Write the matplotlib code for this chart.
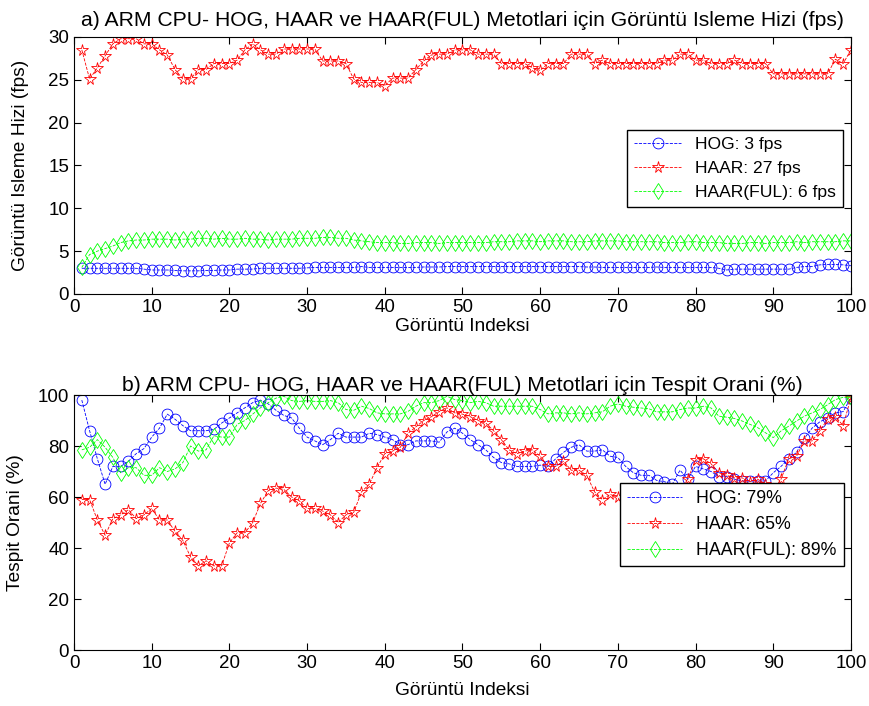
import matplotlib
matplotlib.use('Agg')
import matplotlib.pyplot as plt
import numpy as np

plt.rcParams['font.family'] = ['Liberation Sans', 'DejaVu Sans']

idx = np.arange(1, 101)

# a) processing speed (fps)
hog_fps = [3.0, 3.0, 3.0, 3.0, 3.0, 3.0, 3.0, 3.0, 2.9, 2.8,
           2.8, 2.8, 2.75, 2.7, 2.7, 2.7, 2.75, 2.75, 2.8, 2.8,
           2.9, 2.9, 2.9, 3.0, 3.0, 3.0, 3.0, 3.0, 3.0, 3.05,
           3.1, 3.1, 3.1, 3.1, 3.1, 3.1, 3.2, 3.1, 3.1, 3.1,
           3.1, 3.1, 3.1, 3.1, 3.15, 3.15, 3.15, 3.2, 3.2, 3.2,
           3.2, 3.2, 3.2, 3.2, 3.2, 3.2, 3.2, 3.2, 3.2, 3.2,
           3.2, 3.2, 3.2, 3.2, 3.2, 3.15, 3.15, 3.1, 3.1, 3.1,
           3.1, 3.1, 3.1, 3.1, 3.15, 3.1, 3.1, 3.1, 3.1, 3.1,
           3.1, 3.1, 3.0, 2.8, 2.9, 2.9, 2.9, 2.9, 2.9, 2.9,
           2.9, 2.9, 3.1, 3.2, 3.2, 3.4, 3.45, 3.45, 3.4, 3.3]
haar_fps = [28.5, 25.1, 26.4, 27.8, 29.2, 29.8, 29.8, 29.8, 29.2, 29.2,
            28.5, 27.9, 26.2, 25.1, 25.1, 26.2, 26.2, 26.9, 26.9, 26.9,
            27.3, 28.5, 29.2, 28.5, 28.0, 28.0, 28.6, 28.6, 28.6, 28.6,
            28.6, 27.2, 27.2, 27.2, 26.9, 25.1, 24.7, 24.7, 24.7, 24.3,
            25.2, 25.2, 25.2, 26.2, 27.2, 27.9, 28.0, 28.0, 28.5, 28.5,
            28.5, 28.0, 28.0, 28.0, 26.9, 26.9, 26.9, 26.9, 26.4, 26.1,
            26.9, 26.9, 26.9, 28.0, 28.0, 28.0, 26.9, 27.3, 26.9, 26.9,
            26.9, 26.9, 26.9, 26.9, 26.9, 27.3, 27.3, 28.0, 28.0, 27.3,
            27.3, 26.9, 26.9, 26.9, 27.3, 26.9, 26.9, 26.9, 26.9, 25.7,
            25.7, 25.7, 25.7, 25.7, 25.7, 25.7, 25.7, 27.4, 26.9, 28.5]
ful_fps = [3.1, 4.6, 5.0, 5.3, 5.6, 6.0, 6.2, 6.3, 6.3, 6.4,
           6.4, 6.4, 6.3, 6.4, 6.4, 6.5, 6.5, 6.4, 6.5, 6.4,
           6.4, 6.5, 6.4, 6.4, 6.3, 6.4, 6.4, 6.4, 6.5, 6.5,
           6.5, 6.6, 6.6, 6.5, 6.5, 6.3, 6.2, 6.1, 6.0, 6.0,
           6.0, 5.9, 5.9, 6.0, 6.0, 6.0, 5.9, 6.0, 6.0, 6.0,
           6.0, 6.0, 6.0, 6.1, 6.1, 6.1, 6.2, 6.2, 6.2, 6.1,
           6.2, 6.2, 6.2, 6.1, 6.1, 6.1, 6.2, 6.2, 6.2, 6.2,
           6.1, 6.1, 6.1, 6.1, 6.1, 6.0, 6.0, 6.0, 6.1, 6.1,
           6.0, 6.0, 6.0, 5.9, 5.9, 5.9, 6.0, 6.0, 5.9, 6.0,
           6.0, 6.0, 6.1, 6.0, 6.1, 6.1, 6.1, 6.1, 6.2, 6.2]

# b) detection rate (%)
hog_rate = [98, 86, 75, 65, 72, 72, 74, 77, 79, 83.5,
            87, 92.5, 90.5, 88, 86, 86, 86, 86.5, 89, 91,
            93, 95, 97, 98, 96.5, 94, 92, 91, 87, 83.5,
            82, 80.5, 82.5, 85, 83.5, 83.5, 83.5, 85, 84.5, 83.5,
            82.5, 80.5, 80.5, 82, 82, 82, 81.5, 85.5, 87, 85,
            82.5, 80.5, 78.5, 75.5, 73.5, 73, 72, 72, 72, 72.5,
            72, 75, 77.5, 79.5, 80.5, 78, 78, 78.5, 76, 75.5,
            72, 69.5, 68.5, 68.5, 66.5, 66, 65, 70.5, 67, 72,
            71, 70, 68, 68, 67, 66.3, 66.3, 66.3, 66.3, 69.5,
            72, 75, 77.5, 83, 87, 89.5, 91, 93, 93.5, 99]
haar_rate = [59, 59, 51, 45, 51.5, 53, 55, 51.5, 53, 55.5,
             51, 51, 46.5, 43, 36.5, 33, 35, 33, 33, 42,
             46, 46, 50, 57.5, 62.5, 63.5, 63, 60, 58.5, 55.5,
             55.5, 54.5, 53, 50, 53, 54, 62, 65, 71.5, 77,
             78, 79.5, 85, 87.5, 90, 91.5, 93.5, 95, 93, 92.5,
             91.5, 90, 89, 86, 82.5, 78.5, 77, 78, 78.5, 76,
             72, 72, 74, 70.5, 70.5, 68.5, 62, 59, 61, 60,
             54, 55, 56, 55, 57, 58, 60, 63, 67, 74.5,
             75, 73, 69.5, 68.5, 67.5, 67.5, 66, 67, 65, 62,
             67, 75, 76, 82, 82, 86, 90.5, 91.5, 88, 99]
ful_rate = [78.5, 79.5, 82.5, 79.5, 75.5, 69.5, 71.5, 71.5, 68.5, 68.5,
            71.5, 70, 71, 73.5, 80, 78, 78.5, 84, 83.5, 83.5,
            88.5, 90, 92.5, 95, 97, 98.8, 99.5, 97.8, 97.5, 97.8,
            97.5, 97.5, 97.8, 97, 94.3, 94, 95.6, 94.7, 93, 92.6,
            92.6, 92.6, 93.6, 95.6, 97, 97, 97.8, 99.5, 98.2, 97.8,
            97, 97.5, 97, 95.6, 95.6, 95.6, 95.6, 95.6, 95.6, 94.3,
            92.6, 93, 93, 92.6, 93, 92.6, 93, 93.4, 95.6, 96.5,
            95.6, 95.2, 94.9, 94.6, 93.4, 93.4, 93.4, 94.3, 94.9, 94.9,
            95.6, 94.9, 91.7, 91.3, 90.8, 89.8, 88.5, 87.2, 85.2, 83.3,
            85.9, 87.8, 89.8, 91.7, 93, 94.3, 96.2, 98.2, 99.1, 99.1]

fps_labels = ['HOG: 3 fps', 'HAAR: 27 fps', 'HAAR(FUL): 6 fps']
rate_labels = ['HOG: 79%', 'HAAR: 65%', 'HAAR(FUL): 89%']

fs = 13.8
fig = plt.figure(figsize=(8.69, 7.06), dpi=100)
ax1 = fig.add_axes([0.0852, 0.5836, 0.894, 0.364])
ax2 = fig.add_axes([0.0852, 0.0793, 0.894, 0.3612])

def draw(ax, hog, haar, ful, labels):
    kw = dict(linestyle='--', linewidth=0.6, markerfacecolor='none', markeredgewidth=0.6)
    ax.plot(idx, hog, color='#0000ff', marker='o', markersize=7.8, label=labels[0], **kw)
    ax.plot(idx, haar, color='#ff0000', marker='*', markersize=8.5, label=labels[1], **kw)
    ax.plot(idx, ful, color='#00ff00', marker='d', markersize=8.5, label=labels[2], **kw)
    ax.set_xlim(0, 100)
    ax.set_xticks(np.arange(0, 101, 10))
    ax.tick_params(direction='in', top=True, right=True, labelsize=13.5, length=5)
    for s in ax.spines.values():
        s.set_linewidth(0.8)

draw(ax1, hog_fps, haar_fps, ful_fps, fps_labels)
ax1.set_ylim(0, 30)
ax1.set_yticks(np.arange(0, 31, 5))
ax1.set_title('a) ARM CPU- HOG, HAAR ve HAAR(FUL) Metotlari için Görüntü Isleme Hizi (fps)', fontsize=15.2, pad=8)
ax1.set_xlabel('Görüntü Indeksi', fontsize=fs)
ax1.set_ylabel('Görüntü Isleme Hizi (fps)', fontsize=fs)
ax1.xaxis.set_label_coords(0.5, -0.093)
ax1.yaxis.set_label_coords(-0.058, 0.5)
ax1.legend(loc='upper right', bbox_to_anchor=(0.99, 0.64), fontsize=12.6, handlelength=2.7,
           fancybox=False, edgecolor='black', framealpha=1, borderaxespad=0, labelspacing=0.5)

draw(ax2, hog_rate, haar_rate, ful_rate, rate_labels)
ax2.set_ylim(0, 100)
ax2.set_yticks(np.arange(0, 101, 20))
ax2.set_title('b) ARM CPU- HOG, HAAR ve HAAR(FUL) Metotlari için Tespit Orani (%)', fontsize=15.2, pad=3)
ax2.set_xlabel('Görüntü Indeksi', fontsize=fs)
ax2.set_ylabel('Tespit Orani (%)', fontsize=fs)
ax2.xaxis.set_label_coords(0.5, -0.127)
ax2.yaxis.set_label_coords(-0.064, 0.5)
ax2.legend(loc='upper right', bbox_to_anchor=(0.991, 0.654), fontsize=12.8, handlelength=3.1,
           fancybox=False, edgecolor='black', framealpha=1, borderaxespad=0, labelspacing=0.5)

fig.savefig('out.png', dpi=100)
